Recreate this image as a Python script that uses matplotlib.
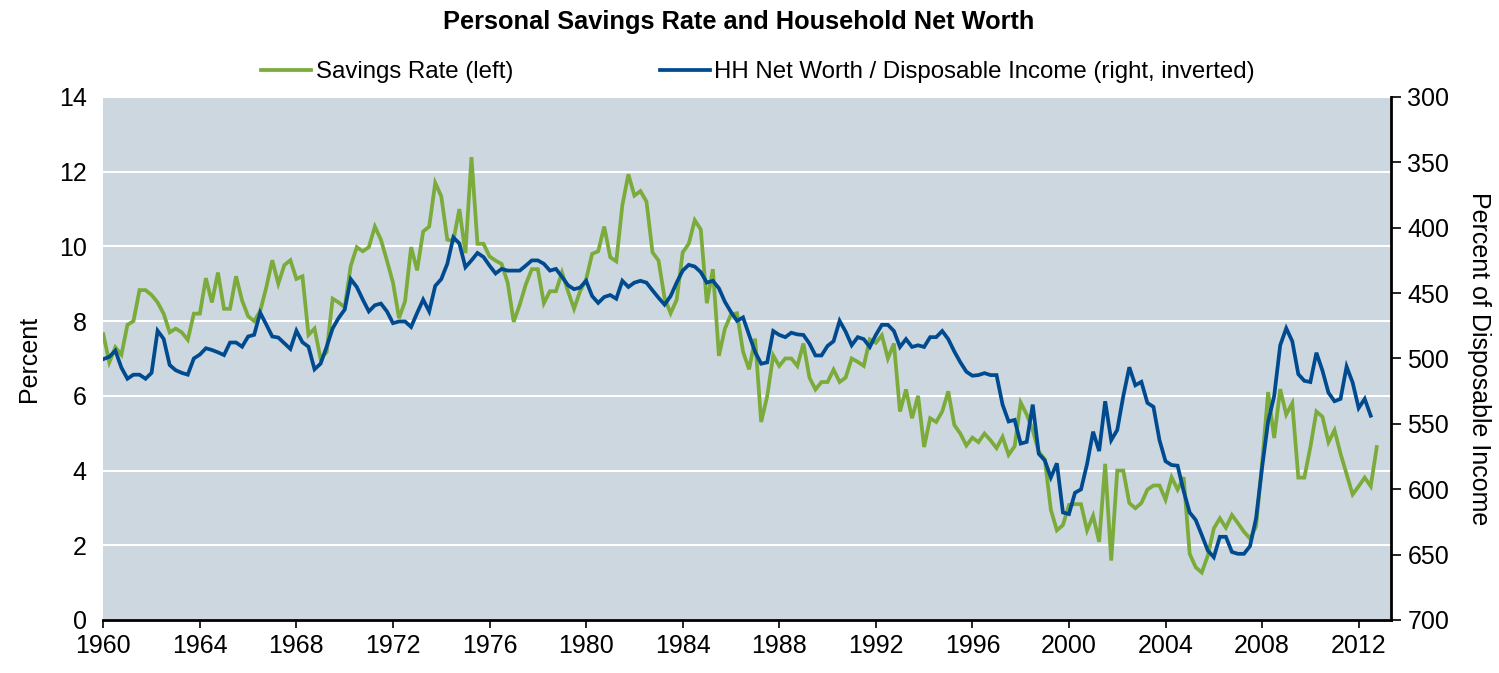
import numpy as np
import matplotlib.pyplot as plt

# quarterly savings rate, percent (1960Q1 - 2012Q4)
savings_rate = [
    7.65, 6.9, 7.3, 7.1,   7.9, 8.0, 8.83, 8.83,   8.7, 8.5, 8.2, 7.7,   7.8, 7.7, 7.5, 8.2,
    8.2, 9.15, 8.5, 9.3,   8.33, 8.33, 9.2, 8.55,   8.13, 8.0, 8.27, 8.9,   9.63, 9.0, 9.5, 9.63,
    9.13, 9.2, 7.63, 7.8,   7.0, 7.17, 8.6, 8.5,   8.37, 9.48, 9.98, 9.87,   9.98, 10.53, 10.18, 9.62,
    9.03, 8.08, 8.53, 9.98,   9.36, 10.4, 10.53, 11.7,   11.34, 10.18, 10.15, 11.0,   9.82, 12.39, 10.07, 10.07,
    9.73, 9.62, 9.53, 9.03,   7.98, 8.44, 8.98, 9.39,   9.39, 8.48, 8.8, 8.8,   9.3, 8.8, 8.33, 8.8,
    9.12, 9.8, 9.87, 10.53,   9.71, 9.6, 11.1, 11.93,   11.36, 11.48, 11.2, 9.84,   9.62, 8.62, 8.21, 8.57,
    9.84, 10.07, 10.7, 10.45,   8.48, 9.39, 7.07, 7.8,   8.18, 8.21, 7.18, 6.71,   7.53, 5.3, 5.99, 7.08,
    6.8, 7.0, 7.0, 6.8,   7.4, 6.49, 6.17, 6.37,   6.37, 6.7, 6.37, 6.49,   7.0, 6.91, 6.8, 7.51,
    7.42, 7.62, 7.0, 7.4,   5.58, 6.17, 5.4, 6.0,   4.63, 5.4, 5.3, 5.58,   6.12, 5.22, 4.99, 4.67,
    4.88, 4.76, 4.99, 4.81,   4.6, 4.9, 4.42, 4.65,   5.82, 5.5, 5.08, 4.5,   4.3, 2.95, 2.4, 2.54,
    3.08, 3.1, 3.1, 2.4,   2.79, 2.09, 4.18, 1.59,   4.0, 4.0, 3.13, 2.99,   3.13, 3.49, 3.6, 3.6,
    3.22, 3.82, 3.49, 3.82,   1.77, 1.41, 1.27, 1.72,   2.45, 2.72, 2.47, 2.81,   2.59, 2.36, 2.18, 2.5,
    4.2, 6.1, 4.87, 6.18,   5.5, 5.8, 3.81, 3.81,   4.63, 5.58, 5.44, 4.76,   5.08, 4.45, 3.9, 3.36,
    3.58, 3.81, 3.58, 4.63,
]

# household net worth / disposable income, percent (1960Q1 - 2012Q3)
net_worth = [
    500.5, 498.7, 494, 507,   515.5, 512.4, 512.4, 515.5,   511, 478.8, 485, 505,   509, 511, 512.4, 500,
    497, 492.2, 493.5, 495.3,   497.4, 487.8, 487.8, 491,   483.2, 481.9, 465, 474,   483.2, 484, 488.3, 492.7,
    478.8, 487.6, 491, 508.3,   504, 491.2, 477, 469,   462.6, 439.3, 445.3, 455,   464, 459.3, 458, 464,
    473, 471.7, 471.7, 475.9,   465.2, 455, 464, 444.5,   439.3, 427.6, 407.4, 412,   430.2, 425, 419.3, 422.4,
    429, 435, 431.5, 432.8,   432.8, 432.8, 429, 425,   425, 427.6, 432.8, 431.5,   437.5, 444, 447, 445.8,
    440.6, 452.3, 457.5, 453,   451.5, 454.3, 440.6, 445.3,   442, 440.6, 442, 447.9,   453.6, 458.8, 452.3, 442,
    432.8, 428.4, 429.7, 434,   442, 440.6, 446.3, 456.7,   464.5, 471.2, 468.6, 482,   495, 504, 503, 479,
    482, 483.7, 480.3, 481.6,   482, 488.6, 497.7, 497.7,   490.4, 486.8, 471.2, 479.5,   489.9, 483.7, 485.2, 491.2,
    482, 474.3, 474.3, 479,   491.2, 485.2, 491.2, 489.9,   491.2, 483.7, 483.7, 479,   485.2, 494.6, 502.9, 510.1,
    513.2, 512.7, 511.2, 512.7,   512.7, 535.3, 548.2, 547,   565.1, 563.8, 535.3, 572.9,   578, 591, 580.2, 617.8,
    619, 602.7, 600.1, 580.7,   556, 570.8, 532.7, 562.5,   554.7, 528.8, 506.7, 520.5,   517.9, 534, 537, 562.5,
    578.6, 581.5, 582, 601.4,   617.8, 623.5, 635, 646.8,   652, 636.4, 636.4, 648,   649.4, 649.4, 643.5, 622.2,
    583.3, 548.2, 528.8, 489.9,   476.9, 486.8, 512, 517.1,   518, 495.6, 509.3, 526.2,   532.7, 530.9, 506.2, 518.4,
    537.9, 530.9, 543.8,
]

year_ticks = list(range(1960, 2013, 4))
left_ticks = [0, 2, 4, 6, 8, 10, 12, 14]
right_ticks = [300, 350, 400, 450, 500, 550, 600, 650, 700]

dates_sav = 1960 + np.arange(len(savings_rate)) / 4
dates_nw = 1960 + np.arange(len(net_worth)) / 4

green = '#7AAB3B'
blue = '#004B8F'
plt.rcParams['font.family'] = ['Liberation Sans', 'DejaVu Sans']

fig = plt.figure(figsize=(14.99, 6.73), dpi=100)
ax1 = fig.add_axes([0.0689, 0.0788, 0.8589, 0.7771])
ax1.set_facecolor('#CDD7E0')
ax2 = ax1.twinx()

l1, = ax1.plot(dates_sav, savings_rate, color=green, lw=2.7, solid_joinstyle='miter')
l2, = ax2.plot(dates_nw, net_worth, color=blue, lw=2.7, solid_joinstyle='miter')

ax1.set_xlim(1960, 2013.33)
ax1.set_ylim(0, 14)
ax2.set_ylim(700, 300)
ax1.set_xticks(year_ticks)
ax1.set_yticks(left_ticks)
ax2.set_yticks(right_ticks)
ax1.grid(axis='y', color='white', lw=1.5)
ax1.set_axisbelow(True)

for s in ['top', 'left', 'right']:
    ax1.spines[s].set_visible(False)
for s in ['top', 'left', 'bottom']:
    ax2.spines[s].set_visible(False)
ax1.spines['bottom'].set_linewidth(2)
ax2.spines['right'].set_linewidth(2)

ax1.tick_params(axis='x', labelsize=18, length=6, width=1.2, pad=4)
ax1.tick_params(axis='y', labelsize=18, length=0, pad=12)
ax2.tick_params(axis='y', labelsize=18, length=7, width=1.2, pad=5)

ax1.set_ylabel('Percent', fontsize=18, labelpad=13)
ax2.set_ylabel('Percent of Disposable Income', fontsize=18, rotation=270, labelpad=30)

fig.text(0.493, 0.968, 'Personal Savings Rate and Household Net Worth',
         ha='center', va='center', fontsize=18.3, fontweight='bold')
fig.legend([l1, l2], ['Savings Rate (left)', 'HH Net Worth / Disposable Income (right, inverted)'],
           loc='center', bbox_to_anchor=(0.5057, 0.893), ncol=2, frameon=False,
           prop={'size': 17.3}, handlelength=2.08, handletextpad=0.2,
           columnspacing=6.1, borderpad=0, borderaxespad=0)

fig.savefig('out.png', dpi=100)
